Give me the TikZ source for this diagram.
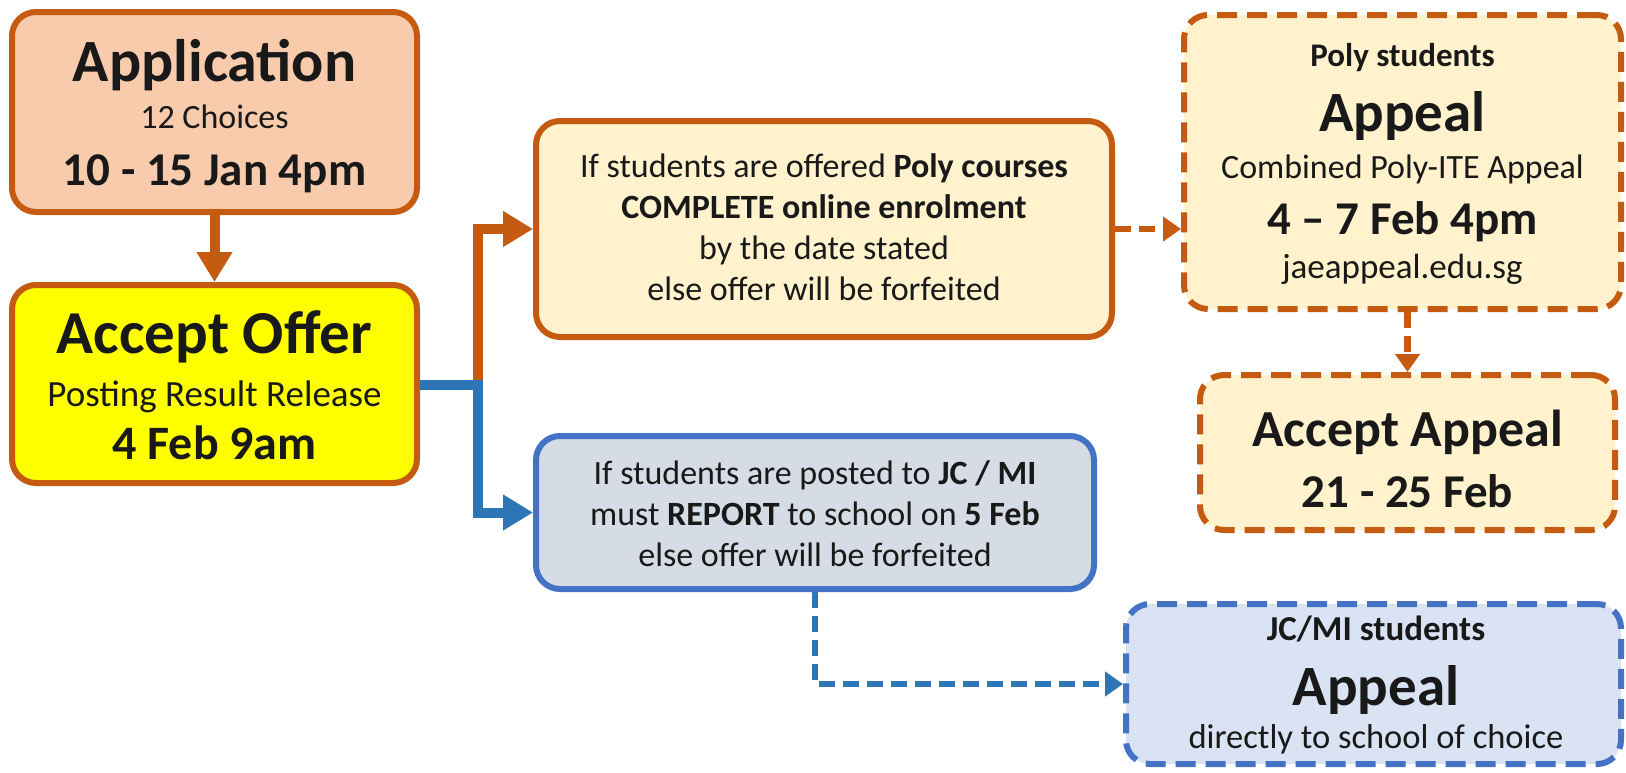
\documentclass[tikz,border=0pt]{standalone}
\usepackage{fontspec}
\setmainfont{Carlito}
\usetikzlibrary{arrows.meta}
\definecolor{orng}{RGB}{197,90,17}
\definecolor{appfill}{RGB}{248,203,173}
\definecolor{offerfill}{RGB}{255,255,0}
\definecolor{polyfill}{RGB}{255,242,204}
\definecolor{jcfill}{RGB}{214,220,229}
\definecolor{jcafill}{RGB}{218,227,243}
\definecolor{blueborder}{RGB}{68,114,196}
\definecolor{bluecon}{RGB}{46,117,182}
\newcommand{\fsz}[1]{\fontsize{#1pt}{#1pt}\selectfont}
\begin{document}
\begin{tikzpicture}[x=1pt,y=-1pt,
  box/.style={draw, rounded corners=24pt, line width=6pt, inner sep=0pt},
  dbox/.style={box, dash pattern=on 20pt off 10pt},
  txt/.style={anchor=base, inner sep=0pt, text=black!90},
  oline/.style={draw=orng, line width=10pt},
  bline/.style={draw=bluecon, line width=10pt},
  bigtip/.style={-{Triangle[length=30pt,width=34pt]}},
  smalltip/.style={-{Triangle[length=18pt,width=24pt]}},
  dcon/.style={line width=6.5pt, dash pattern=on 16pt off 8pt}]
\useasboundingbox[fill=white] (0,0) rectangle (1626,772);

% boxes
\node[box, draw=orng, fill=appfill, minimum width=405pt, minimum height=200pt] (app) at (214.5,112) {};
\node[box, draw=orng, fill=offerfill, minimum width=405pt, minimum height=198pt] (offer) at (214.5,384) {};
\node[box, draw=orng, fill=polyfill, minimum width=576pt, minimum height=216pt] (poly) at (824,229) {};
\node[box, draw=blueborder, fill=jcfill, minimum width=558pt, minimum height=153pt] (jc) at (815,512.5) {};
\node[dbox, draw=orng, fill=polyfill, minimum width=437pt, minimum height=294pt] (pappeal) at (1402.5,162) {};
\node[dbox, draw=orng, fill=polyfill, minimum width=415pt, minimum height=155pt] (accappeal) at (1407.5,452.5) {};
\node[dbox, draw=blueborder, fill=jcafill, minimum width=495pt, minimum height=160pt] (jcappeal) at (1373.5,684) {};

% texts
\node[txt] (t1) at (214.5,81) {\fsz{60}\bfseries Application};
\node[txt] (t2) at (214.5,128) {\fsz{34}12 Choices};
\node[txt] (t3) at (214.5,185) {\fsz{47}\bfseries 10 - 15 Jan 4pm};

\node[txt] (t4) at (214.5,353) {\fsz{61}\bfseries Accept Offer};
\node[txt] (t5) at (214.5,406) {\fsz{37}Posting Result Release};
\node[txt] (t6) at (214.5,459) {\fsz{48}\bfseries 4 Feb 9am};

\node[txt] (t7) at (824,177) {\fsz{34}If students are offered \textbf{Poly courses}};
\node[txt] (t8) at (824,218) {\fsz{34}\textbf{COMPLETE online enrolment}};
\node[txt] (t9) at (824,259) {\fsz{34}by the date stated};
\node[txt] (t10) at (824,300) {\fsz{34}else offer will be forfeited};

\node[txt] (t11) at (815,484) {\fsz{34}If students are posted to \textbf{JC / MI}};
\node[txt] (t12) at (815,525) {\fsz{34}must \textbf{REPORT} to school on \textbf{5 Feb}};
\node[txt] (t13) at (815,566) {\fsz{34}else offer will be forfeited};

\node[txt] (t14) at (1402.5,66) {\fsz{33}\bfseries Poly students};
\node[txt] (t15) at (1402.5,131) {\fsz{57}\bfseries Appeal};
\node[txt] (t16) at (1402.5,178) {\fsz{34}Combined Poly-ITE Appeal};
\node[txt] (t17) at (1402.5,234) {\fsz{47}\bfseries 4 – 7 Feb 4pm};
\node[txt] (t18) at (1402.5,278) {\fsz{35}jaeappeal.edu.sg};

\node[txt] (t19) at (1407.5,446) {\fsz{52}\bfseries Accept Appeal};
\node[txt] (t20) at (1407.5,507) {\fsz{47}\bfseries 21 - 25 Feb};

\node[txt] (t21) at (1376,640) {\fsz{35}\bfseries JC/MI students};
\node[txt] (t22) at (1376,705) {\fsz{57}\bfseries Appeal};
\node[txt] (t23) at (1376,748) {\fsz{34.5}directly to school of choice};

% connectors
\coordinate (br) at (478,385);
\draw[oline, bigtip] (app.south) -- (offer.north);
\draw[oline, bigtip] (br) |- (poly.west);
\draw[bline, bigtip] (offer.east |- br) -- (br) |- (jc.west);
\draw[draw=orng, dcon, smalltip] (poly.east) -- (poly.east -| pappeal.west);
\draw[draw=orng, dcon, smalltip] (pappeal.south -| accappeal.north) -- (accappeal.north);
\draw[draw=bluecon, dcon, smalltip] (jc.south) |- (jcappeal.west);
\end{tikzpicture}
\end{document}
